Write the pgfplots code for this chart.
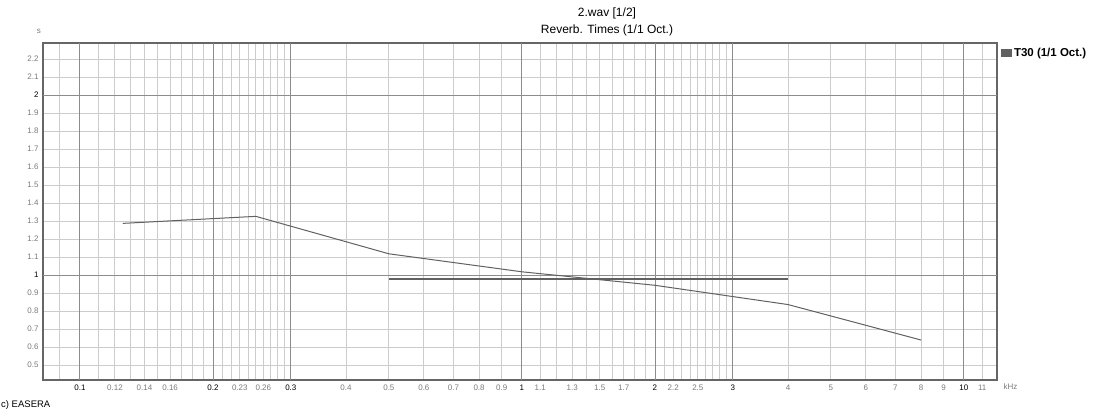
\documentclass[border=0pt]{standalone}
\usepackage{fontspec}
\setmainfont{Liberation Sans}
\usepackage{pgfplots}
\pgfplotsset{compat=1.18}
\definecolor{lightgrid}{gray}{0.80}
\definecolor{darkgrid}{gray}{0.55}
\definecolor{ticklab}{gray}{0.48}
\definecolor{curvec}{gray}{0.38}
\definecolor{framec}{gray}{0.40}
\begin{document}
\begin{tikzpicture}[x=1pt,y=1pt]
\useasboundingbox (-43,-31) rectangle (1050,380);
\begin{axis}[
  at={(0,0)}, anchor=south west,
  width=954pt, height=337pt, scale only axis,
  xmode=log, xmin=0.0825, xmax=11.88, ymin=0.417, ymax=2.289,
  xtick={0.12,0.14,0.16,0.23,0.26,0.4,0.5,0.6,0.7,0.8,0.9,1.1,1.3,1.5,1.7,2.2,2.5,4,5,6,7,8,9,11},
  xticklabels={0.12,0.14,0.16,0.23,0.26,0.4,0.5,0.6,0.7,0.8,0.9,1.1,1.3,1.5,1.7,2.2,2.5,4,5,6,7,8,9,11},
  minor xtick={0.09,0.11,0.13,0.15,0.17,0.18,0.19,0.21,0.22,0.24,0.25,0.27,0.28,0.29,1.2,1.4,1.6,1.8,1.9,2.1,2.3,2.4,2.6,2.7,2.8,2.9},
  extra x ticks={0.1,0.2,0.3,1,2,3,10},
  extra x tick labels={0.1,0.2,0.3,1,2,3,10},
  ytick={0.5,0.6,0.7,0.8,0.9,1.1,1.2,1.3,1.4,1.5,1.6,1.7,1.8,1.9,2.1,2.2},
  yticklabels={0.5,0.6,0.7,0.8,0.9,1.1,1.2,1.3,1.4,1.5,1.6,1.7,1.8,1.9,2.1,2.2},
  extra y ticks={1,2},
  extra y tick labels={1,2},
  extra x tick style={major grid style={draw=darkgrid, line width=0.9pt}, xticklabel style={text=black}},
  extra y tick style={major grid style={draw=darkgrid, line width=0.9pt}, yticklabel style={text=black}},
  grid=both,
  major grid style={draw=lightgrid, line width=0.9pt},
  minor grid style={draw=lightgrid, line width=0.9pt},
  major tick length=0pt, minor tick length=0pt,
  tick label style={font=\fontsize{8}{9}\selectfont, text=ticklab},
  xticklabel style={yshift=-1pt},
  yticklabel style={xshift=-1pt},
  axis line style={draw=framec, line width=1.4pt},
  legend style={draw=none, fill=none, at={(1.004,0.99)}, anchor=north west,
    font=\fontsize{11.5}{12}\selectfont\bfseries, inner sep=0pt,
    legend cell align=left},
  legend image code/.code={\fill[curvec] (0pt,-3.5pt) rectangle (10pt,3.5pt);},
]
\addplot[color=curvec, line width=1pt] coordinates {
  (0.125,1.287) (0.25,1.326) (0.5,1.118) (1,1.018) (2,0.943) (4,0.836) (8,0.639)
};
\addlegendentry{T30 (1/1 Oct.)}
\addplot[color=curvec, line width=2.6pt, forget plot] coordinates {
  (0.5,0.979) (4,0.979)
};
\end{axis}
\node[font=\fontsize{12}{13}\selectfont] at (564,367) {2.wav [1/2]};
\node[font=\fontsize{12}{13}\selectfont] at (564,350) {Reverb. Times (1/1 Oct.)};
\node[font=\fontsize{8}{9}\selectfont, text=ticklab] at (-4,349) {s};
\node[font=\fontsize{8}{9}\selectfont, text=ticklab, anchor=west] at (957,-7) {kHz};
\node[font=\fontsize{9.5}{10}\selectfont, anchor=west, inner sep=0pt] at (-42,-25) {c) EASERA};
\end{tikzpicture}
\end{document}
